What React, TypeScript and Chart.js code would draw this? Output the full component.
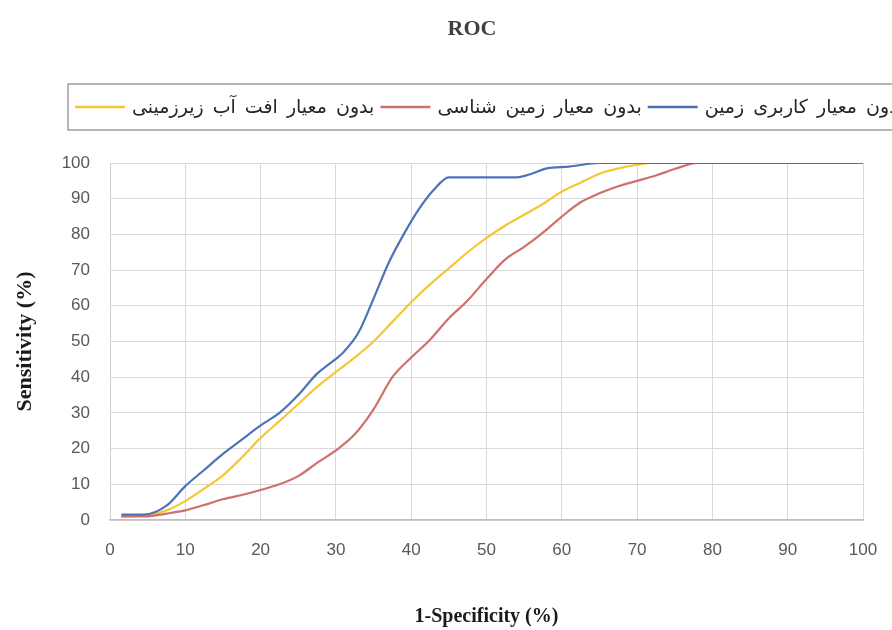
import React, { useEffect, useRef } from "react";
import { Chart, registerables } from "chart.js";

Chart.register(...registerables);

const TITLE = "ROC";
const X_TITLE = "1-Specificity (%)";
const Y_TITLE = "Sensitivity (%)";

const SERIES_NAMES = [
  "بدون معیار کاربری زمین",
  "بدون معیار زمین شناسی",
  "بدون معیار افت آب زیرزمینی",
];
const SERIES_COLORS = ["#4e72b8", "#d0706a", "#f3c736"];

const blueX = [1.5, 4.5, 7.5, 10, 12.5, 15, 17.5, 20, 22.5, 25, 27.5, 29, 31, 33, 35, 37, 39, 41, 43, 45, 47, 50, 54, 56, 58, 61, 65, 70, 80, 90, 100];
const blueY = [1.5, 1.5, 4, 9.5, 14, 18.5, 22.5, 26.5, 30, 35, 41, 43.5, 47, 52.5, 62, 72, 80, 87, 92.5, 96, 96, 96, 96, 97, 98.5, 99, 100, 100, 100, 100, 100];

const redX = [1.5, 4.5, 7.5, 10, 12.5, 15, 17.5, 20, 22.5, 25, 27.5, 30, 32.5, 35, 37.5, 40, 42.5, 45, 47.5, 50, 52.5, 55, 57.5, 60, 62.5, 65, 67.5, 70, 72.5, 75, 78, 80, 90, 100];
const redY = [1, 1, 1.8, 2.7, 4.2, 5.8, 7, 8.4, 10, 12.3, 16, 19.5, 24, 31, 40, 45.5, 50.5, 56.5, 61.5, 67.5, 73, 76.5, 80.5, 85, 89, 91.5, 93.5, 95, 96.5, 98.3, 100, 100, 100, 100];

const yellowX = [1.5, 4.5, 7.5, 10, 12.5, 15, 17.5, 20, 22.5, 25, 27.5, 30, 32.5, 35, 37.5, 40, 42.5, 45, 47.5, 50, 52.5, 55, 57.5, 60, 62.5, 65, 67.5, 70, 72, 80, 90, 100];
const yellowY = [1, 1.2, 2.7, 5.3, 8.8, 12.5, 17.5, 23, 27.7, 32.5, 37.3, 41.5, 45.5, 50, 55.5, 61, 66, 70.5, 75, 79, 82.5, 85.5, 88.5, 92, 94.5, 97, 98.5, 99.5, 100, 100, 100, 100];

const AXIS_MIN = 0;
const AXIS_MAX = 100;
const AXIS_STEP = 10;

const toPoints = (xs: number[], ys: number[]) => xs.map((x, i) => ({ x, y: ys[i] }));

const legendPlugin = {
  id: "customTitleLegend",
  afterDraw(chart: any) {
    const ctx = chart.ctx as CanvasRenderingContext2D;
    ctx.save();
    // Title
    ctx.fillStyle = "#404040";
    ctx.font = "bold 22px 'Liberation Serif', 'Times New Roman', serif";
    ctx.textAlign = "center";
    ctx.textBaseline = "middle";
    ctx.fillText(TITLE, 472, 29);

    // Legend box
    ctx.strokeStyle = "#a0a0a0";
    ctx.lineWidth = 1.5;
    ctx.strokeRect(68, 84, 840, 46);

    // Items: drawn left to right, in reverse dataset order
    ctx.font = "19px 'DejaVu Sans', sans-serif";
    ctx.textBaseline = "middle";
    ctx.textAlign = "left";
    (ctx as any).direction = "rtl";
    (ctx as any).wordSpacing = "3px";
    const ds = chart.data.datasets;
    let x = 75;
    const y = 107;
    for (let i = ds.length - 1; i >= 0; i--) {
      ctx.strokeStyle = ds[i].borderColor;
      ctx.lineWidth = 2.5;
      ctx.beginPath();
      ctx.moveTo(x, y);
      ctx.lineTo(x + 50, y);
      ctx.stroke();
      const label = ds[i].label;
      const w = ctx.measureText(label).width;
      ctx.fillStyle = "#262626";
      ctx.fillText(label, x + 57, y + 1);
      x += 57 + w + 6;
    }
    ctx.restore();
  },
};

export default function App() {
  const ref = useRef<HTMLCanvasElement | null>(null);

  useEffect(() => {
    document.body.style.margin = "0";
    document.body.style.overflow = "hidden";
    const canvas = ref.current;
    if (!canvas) return;
    const tickFont = { family: "'Liberation Sans', Arial, sans-serif", size: 17 };
    const xTitleFont = { family: "'Liberation Serif', 'Times New Roman', serif", size: 20, weight: "bold" as const };
    const yTitleFont = { family: "'Liberation Serif', 'Times New Roman', serif", size: 22, weight: "bold" as const };
    const series = [
      toPoints(blueX, blueY),
      toPoints(redX, redY),
      toPoints(yellowX, yellowY),
    ];
    const chart = new Chart(canvas, {
      type: "scatter",
      data: {
        datasets: series.map((pts, i) => ({
          label: SERIES_NAMES[i],
          data: pts,
          showLine: true,
          borderColor: SERIES_COLORS[i],
          backgroundColor: SERIES_COLORS[i],
          borderWidth: 2.2,
          pointRadius: 0,
          cubicInterpolationMode: "monotone" as const,
          fill: false,
        })),
      },
      options: {
        animation: false,
        responsive: false,
        layout: { padding: { top: 163, right: 29, left: 0, bottom: 0 } },
        plugins: {
          legend: { display: false },
          title: { display: false },
          tooltip: { enabled: false },
        },
        scales: {
          x: {
            type: "linear",
            min: AXIS_MIN,
            max: AXIS_MAX,
            ticks: { stepSize: AXIS_STEP, color: "#595959", font: tickFont, padding: 20 },
            grid: { color: "#d9d9d9", drawTicks: false, lineWidth: 1 },
            border: { color: "#bfbfbf", width: 1.5 },
            title: { display: true, text: X_TITLE, color: "#1a1a1a", font: xTitleFont, padding: { top: 0, bottom: 1 } },
            afterFit: (s: any) => { s.height = 110; s.paddingLeft = 0; s.paddingRight = 0; },
          },
          y: {
            type: "linear",
            min: AXIS_MIN,
            max: AXIS_MAX,
            ticks: { stepSize: AXIS_STEP, color: "#595959", font: tickFont, padding: 20 },
            grid: { color: "#d9d9d9", drawTicks: false, lineWidth: 1 },
            border: { color: "#d0d0d0", width: 1 },
            title: { display: true, text: Y_TITLE, color: "#1a1a1a", font: yTitleFont, padding: { top: 12, bottom: 0 } },
            afterFit: (s: any) => { s.width = 110; s.paddingTop = 0; s.paddingBottom = 0; },
          },
        },
      },
      plugins: [legendPlugin],
    });
    return () => chart.destroy();
  }, []);

  return (
    <div style={{ width: 892, height: 630, background: "#ffffff" }}>
      <canvas ref={ref} width={892} height={630} />
    </div>
  );
}
